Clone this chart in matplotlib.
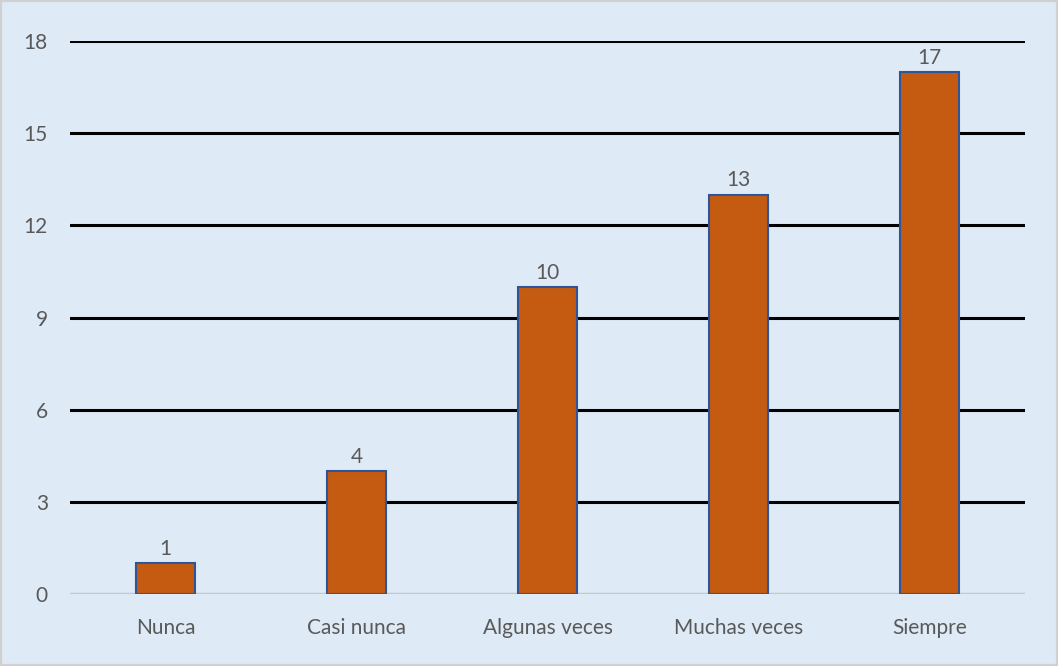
import matplotlib.pyplot as plt
from matplotlib.patches import Rectangle

categories = ['Nunca', 'Casi nunca', 'Algunas veces', 'Muchas veces', 'Siempre']
counts = [1, 4, 10, 13, 17]
y_ticks = [0, 3, 6, 9, 12, 15, 18]

plt.rcParams['font.family'] = ['Lato', 'DejaVu Sans']

bg = '#DEEAF6'
text_color = '#595959'

fig = plt.figure(figsize=(10.58, 6.66), dpi=100, facecolor=bg)
fig.patches.append(Rectangle((0, 0), 1, 1, transform=fig.transFigure, fill=False,
                             edgecolor='#D0D0D0', linewidth=3))
ax = fig.add_axes([0.0662, 0.1081, 0.9026, 0.8303])
ax.set_facecolor(bg)

bars = ax.bar(range(len(categories)), counts, width=0.31, color='#C55A11',
              edgecolor='#2F5597', linewidth=1.5, zorder=3)
ax.bar_label(bars, labels=[str(c) for c in counts], padding=3, fontsize=15,
             color=text_color)

ax.set_xlim(-0.5, len(categories) - 0.5)
ax.set_ylim(0, 18)
ax.set_yticks(y_ticks)
ax.set_xticks(range(len(categories)), categories)
ax.grid(axis='y', color='black', linewidth=2.2)
ax.set_axisbelow(True)
# the zero line is drawn light gray instead of black
ax.get_ygridlines()[0].set_visible(False)
ax.axhline(0, color='#C8C8C8', linewidth=2.5, zorder=2)

for s in ax.spines.values():
    s.set_visible(False)
ax.tick_params(length=0, labelsize=15, colors=text_color)
ax.tick_params(axis='y', pad=16)
ax.tick_params(axis='x', pad=17)

fig.savefig('out.png', dpi=100, facecolor=bg)
